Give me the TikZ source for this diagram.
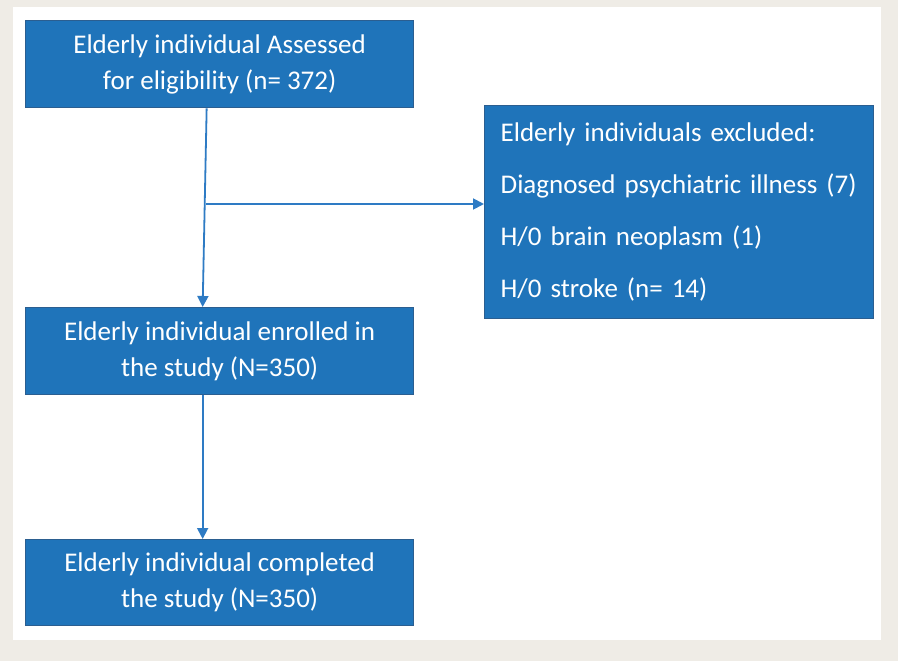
\documentclass[tikz,border=0pt]{standalone}
\usepackage{fontspec}
\setmainfont{Carlito}
\usetikzlibrary{arrows.meta,calc}
\definecolor{bgbeige}{HTML}{EFECE6}
\definecolor{boxfill}{HTML}{1F74BA}
\definecolor{boxline}{HTML}{2B5E90}
\definecolor{arrline}{HTML}{2E7BC4}
\tikzset{
  box/.style={draw=boxline, line width=1.3pt, fill=boxfill, text=white, anchor=north west,
    inner sep=0pt, font=\fontsize{27}{36}\selectfont, align=center},
  arr/.style={draw=arrline, line width=1.8pt, -{Triangle[width=11pt,length=11pt]}}
}
\begin{document}
\begin{tikzpicture}[x=1pt,y=-1pt]
\fill[bgbeige] (0,0) rectangle (898,661);
\fill[white] (13,7) rectangle (881,640);
\useasboundingbox (0,0) rectangle (898,661);
\node[box, minimum width=388pt, minimum height=87pt] (b1) at (25,20)
  {Elderly individual Assessed\\for eligibility (n= 372)};
\node[box, minimum width=389pt, minimum height=213pt, align=left, inner xsep=16pt,
  font=\fontsize{27}{52}\selectfont, text width=357pt] (ex) at (484,105)
  {Elderly individuals excluded:\\Diagnosed psychiatric illness (7)\\H/0 brain neoplasm (1)\\H/0 stroke (n= 14)};
\node[box, minimum width=388pt, minimum height=87pt] (b2) at (25,307)
  {Elderly individual enrolled in\\the study (N=350)};
\node[box, minimum width=388pt, minimum height=86pt] (b3) at (25,539)
  {Elderly individual completed\\the study (N=350)};
\coordinate (j) at (206,204);
\draw[arr] ([xshift=-13pt]b1.south) -- ([xshift=-17pt]b2.north);
\draw[arr] (j) -- (ex.west |- j);
\draw[arr] ([xshift=-17pt]b2.south) -- ([xshift=-17pt]b3.north);
\end{tikzpicture}
\end{document}
